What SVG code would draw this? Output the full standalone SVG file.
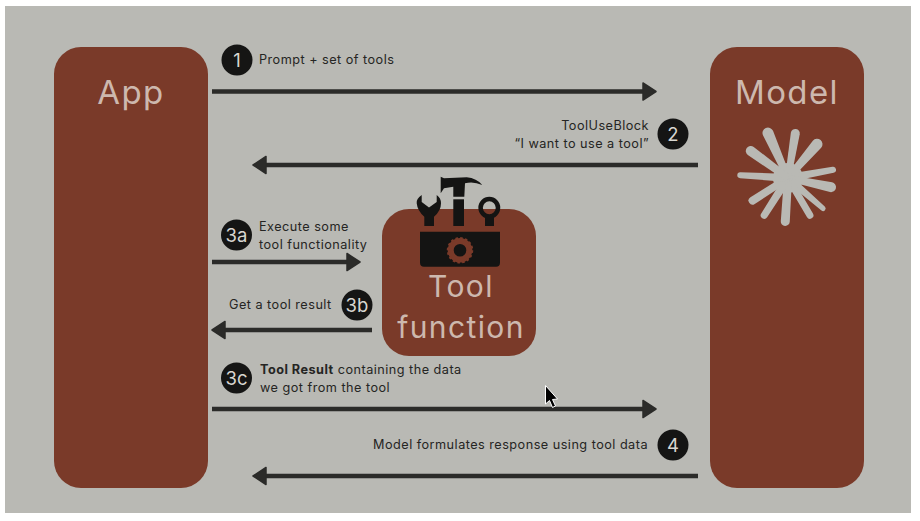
<svg xmlns="http://www.w3.org/2000/svg" width="920" height="521" viewBox="0 0 920 521">
<style>
.t{font-family:Inter,"Liberation Sans",sans-serif;font-size:12.7px;fill:#252523;letter-spacing:.47px}
.n{font-family:Inter,"Liberation Sans",sans-serif;font-size:18.5px;fill:#d8d6d0;text-anchor:middle}
.h{font-family:Inter,"Liberation Sans",sans-serif;font-size:33px;font-weight:400;fill:#cdb8ae;text-anchor:middle;letter-spacing:1.4px}
.box{fill:#7a3a29}
.c{fill:#151514}
.l{stroke:#2b2b29;stroke-width:4.500;fill:none}
.k{fill:#141413}
</style>
<defs>
<marker id="a" markerUnits="userSpaceOnUse" markerWidth="18" markerHeight="22" refX="8" refY="11" orient="auto-start-reverse">
<path d="M1,2.500 L14,11 L1,19.500 Z" fill="#2b2b29" stroke="#2b2b29" stroke-width="1.500" stroke-linejoin="round"/>
</marker>
</defs>
<rect width="920" height="521" fill="#fff"/>
<rect x="5" y="6" width="906" height="507" fill="#b9b9b4"/>
<g id="connectors">
<path class="l" d="M212,91.500H650" marker-end="url(#a)"/>
<path class="l" d="M698,165H259" marker-end="url(#a)"/>
<path class="l" d="M212,262H354" marker-end="url(#a)"/>
<path class="l" d="M372,330H218" marker-end="url(#a)"/>
<path class="l" d="M212,409H650" marker-end="url(#a)"/>
<path class="l" d="M698,476H259" marker-end="url(#a)"/>
</g>
<g id="app"><rect class="box" x="54" y="47" width="154" height="441" rx="27"/><text class="h" x="131" y="104">App</text></g>
<g id="model"><rect class="box" x="710" y="47" width="154" height="441" rx="27"/><text class="h" x="787" y="104">Model</text>
<g fill="#b9b9b4" transform="translate(788,178)">
<circle r="15"/>
<path transform="rotate(-24)" d="M-3,0L-5.500,-49.200A5.500,5.500 0 0 1 5.500,-49.200L3,0Z"/>
<path transform="rotate(9.300)" d="M-3,0L-4.500,-45.100A4.500,4.500 0 0 1 4.500,-45.100L3,0Z"/>
<path transform="rotate(40.700)" d="M-3,0L-5.500,-44.500A5.500,5.500 0 0 1 5.500,-44.500L3,0Z"/>
<path transform="rotate(79.700)" d="M-4,0L-3,-45.800A3,3 0 0 1 3,-45.800L4,0Z"/>
<path transform="rotate(102)" d="M-3,0L-5,-44A5,5 0 0 1 5,-44L3,0Z"/>
<path transform="rotate(131)" d="M-4,0L-2.500,-46.500A2.500,2.500 0 0 1 2.500,-46.500L4,0Z"/>
<path transform="rotate(149.500)" d="M-3.500,0L-3.500,-43.200A3.500,3.500 0 0 1 3.500,-43.200L3.500,0Z"/>
<path transform="rotate(183.600)" d="M-4,0L-4.500,-43.500A4.500,4.500 0 0 1 4.500,-43.500L4,0Z"/>
<path transform="rotate(212.500)" d="M-4,0L-3.500,-44.300A3.500,3.500 0 0 1 3.500,-44.300L4,0Z"/>
<path transform="rotate(237.400)" d="M-3.500,0L-4,-42A4,4 0 0 1 4,-42L3.500,0Z"/>
<path transform="rotate(273.400)" d="M-4,0L-3,-47.800A3,3 0 0 1 3,-47.800L4,0Z"/>
<path transform="rotate(306)" d="M-3.500,0L-5,-46A5,5 0 0 1 5,-46L3.500,0Z"/>
</g></g>
<g id="tool-function"><rect class="box" x="382" y="209" width="154" height="147" rx="27"/>
<path class="k" d="M420,231.700H500V262.700Q500,266.700 496,266.700H424Q420,266.700 420,262.700Z"/>
<circle cx="460" cy="250.300" r="9.300" fill="none" stroke="#7a3a29" stroke-width="6"/>
<circle cx="460" cy="250.300" r="12" fill="none" stroke="#7a3a29" stroke-width="2.500" stroke-dasharray="2.500 2.200"/>
<path class="k" d="M453.300,199.300H464V226H453.300Z"/>
<path class="k" d="M440.700,176.700L444,178.300L466.700,177.300Q476.700,178.300 482.300,185Q473.300,181 465,183.300L464.300,196.700H453.300V186.700L444,188.300L440.700,193.300Z"/>
<path class="k" d="M421.700,195Q416,199 416.700,203.300Q417.500,211 424.300,216.700V226H434V216.700Q441,211 441,203.300Q441,198 436.700,195V202L429,207.500L421.700,202Z"/>
<circle cx="489.300" cy="207.700" r="8.700" fill="none" stroke="#141413" stroke-width="4.500"/>
<path class="k" d="M485,215H494V226H485Z"/>
<text class="h" x="461" y="297" style="font-size:30px">Tool</text><text class="h" x="461" y="338" style="font-size:30px">function</text></g>
<g id="step-1"><circle class="c" cx="237" cy="60" r="15.500"/><text class="n" x="237" y="66.500">1</text><text class="t" x="259" y="64">Prompt + set of tools</text></g>
<g id="step-2"><circle class="c" cx="673" cy="134" r="15.500"/><text class="n" x="673" y="140.500">2</text><text class="t" x="649" y="130" text-anchor="end">ToolUseBlock</text><text class="t" x="649" y="148" text-anchor="end">“I want to use a tool”</text></g>
<g id="step-3a"><circle class="c" cx="236.500" cy="235" r="15.500"/><text class="n" x="236.500" y="241.500">3a</text><text class="t" x="259" y="231">Execute some</text><text class="t" x="259" y="249">tool functionality</text></g>
<g id="step-3b"><circle class="c" cx="357" cy="305" r="15.500"/><text class="n" x="357" y="311.500">3b</text><text class="t" x="229" y="309">Get a tool result</text></g>
<g id="step-3c"><circle class="c" cx="236.500" cy="378" r="15.500"/><text class="n" x="236.500" y="384.500">3c</text><text class="t" x="260" y="374"><tspan font-weight="700">Tool Result</tspan> containing the data</text><text class="t" x="260" y="392">we got from the tool</text></g>
<g id="step-4"><circle class="c" cx="673" cy="445" r="15.500"/><text class="n" x="673" y="451.500">4</text><text class="t" x="648" y="449" text-anchor="end">Model formulates response using tool data</text></g>
<path d="M545.500,385.500V404L549.500,400.500L552.500,407.500L555.500,406L552.500,399.500L557.500,399Z" fill="#000" stroke="#fff" stroke-width="1"/>
</svg>
